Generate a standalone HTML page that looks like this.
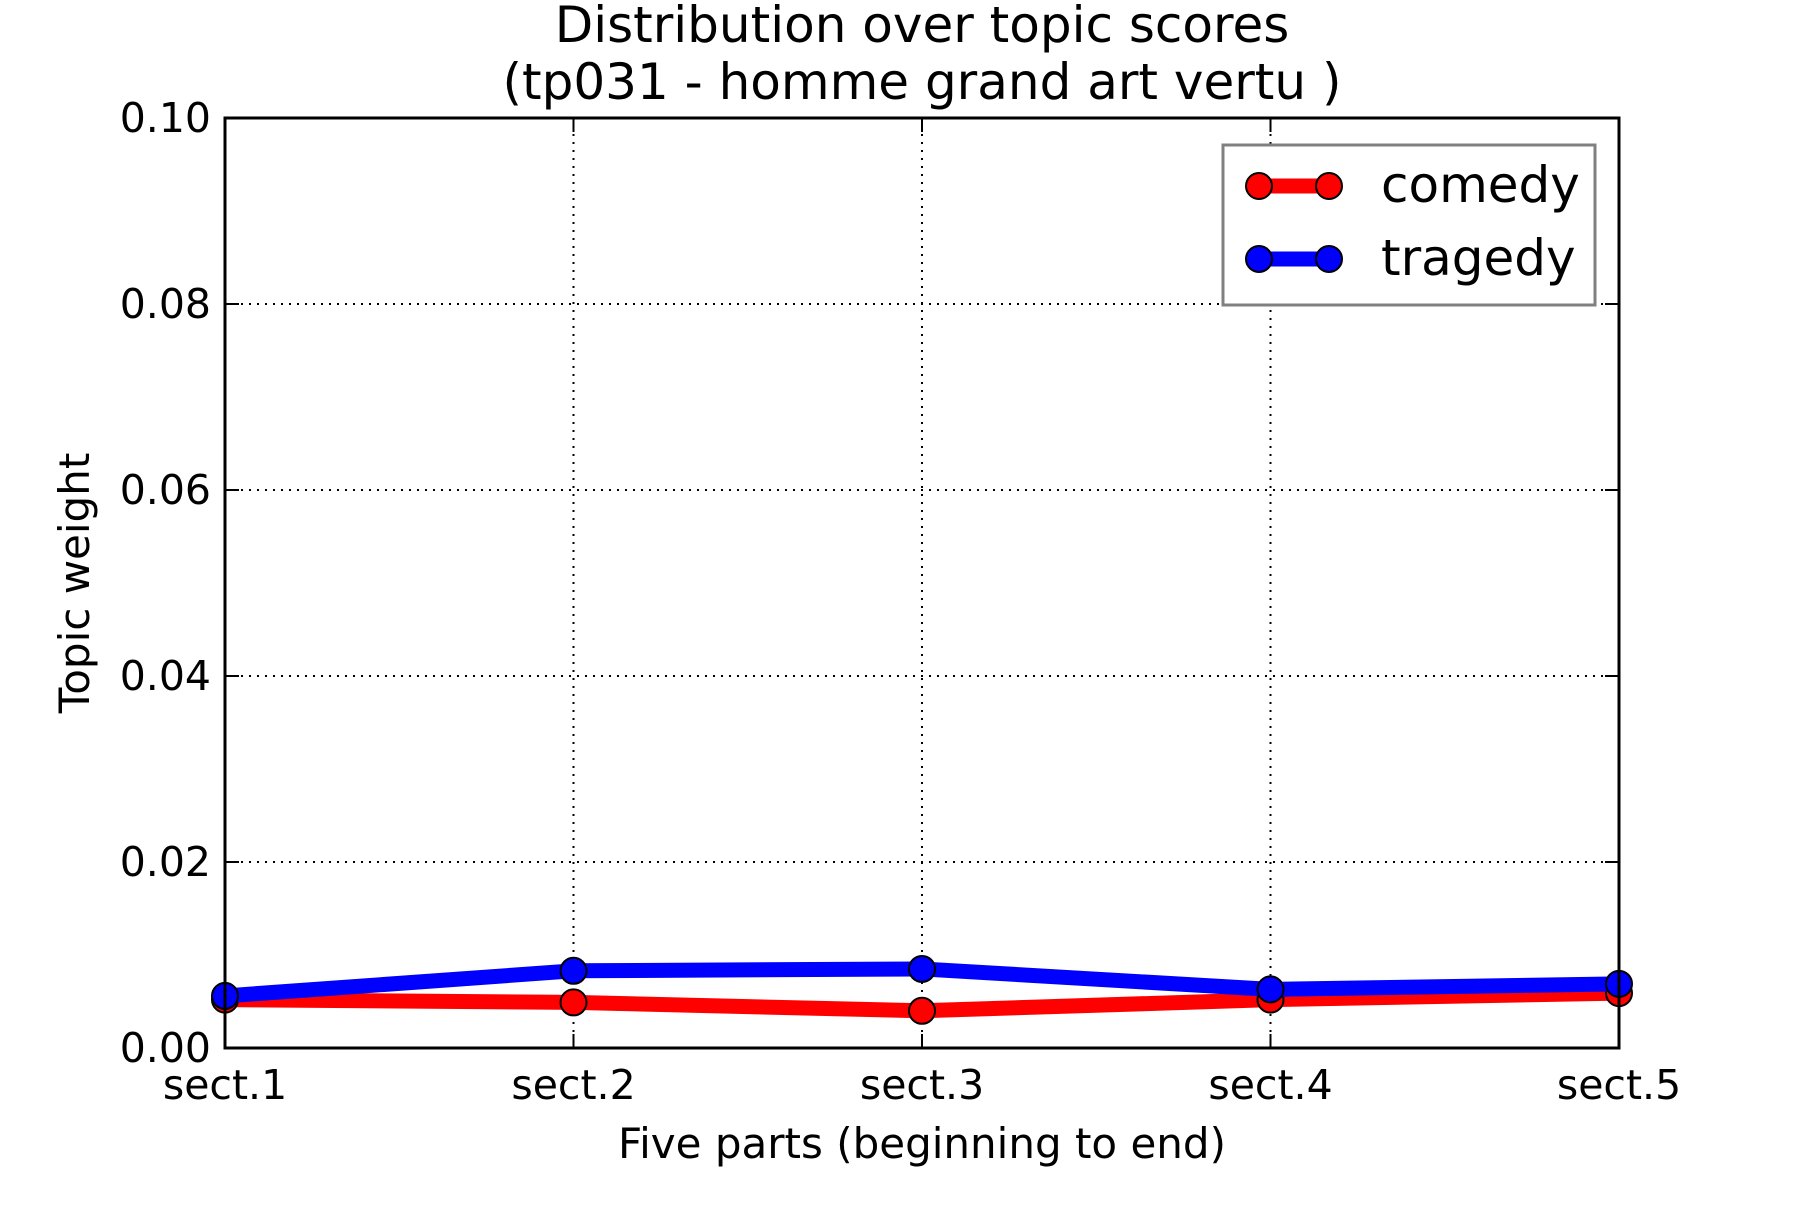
<!DOCTYPE html>
<html><head><meta charset="utf-8"><style>
html,body{margin:0;padding:0;background:#fff}
svg text{font-family:"DejaVu Sans","Liberation Sans",sans-serif;fill:#000}
</style></head><body>
<svg id="chart" width="1800" height="1200" viewBox="0 0 1800 1200" xmlns="http://www.w3.org/2000/svg">
<text x="922" y="42" font-size="50" text-anchor="middle">Distribution over topic scores</text>
<text x="922" y="99" font-size="50" text-anchor="middle">(tp031 - homme grand art vertu )</text>
<g id="grid"></g>
<g id="series"></g>
<rect x="225" y="118" width="1394" height="930" fill="none" stroke="#000" stroke-width="3"/>
<g id="ticks"></g>
<text x="922" y="1158" font-size="42" text-anchor="middle">Five parts (beginning to end)</text>
<text transform="translate(89,583) rotate(-90)" font-size="42" text-anchor="middle">Topic weight</text>
<g>
<rect x="1223" y="145" width="372" height="160" fill="#fff" stroke="#808080" stroke-width="3"/>
<g>
<line x1="1259" y1="186" x2="1329" y2="186" stroke="#f00" stroke-width="15"/>
<circle cx="1259" cy="186" r="13" fill="#f00" stroke="#000" stroke-width="2"/>
<circle cx="1329" cy="186" r="13" fill="#f00" stroke="#000" stroke-width="2"/>
<text x="1381" y="202" font-size="50">comedy</text></g>
<g>
<line x1="1259" y1="259" x2="1329" y2="259" stroke="#00f" stroke-width="15"/>
<circle cx="1259" cy="259" r="13" fill="#00f" stroke="#000" stroke-width="2"/>
<circle cx="1329" cy="259" r="13" fill="#00f" stroke="#000" stroke-width="2"/>
<text x="1381" y="275" font-size="50">tragedy</text></g>
</g>
</svg>
<script>
const categories = ["sect.1","sect.2","sect.3","sect.4","sect.5"];
const comedy = [0.0052,0.0049,0.0040,0.0052,0.0059];
const tragedy = [0.0056,0.0083,0.0085,0.0063,0.0069];
const yTicks = [0,0.02,0.04,0.06,0.08,0.10];
const yTickLabels = ["0.00","0.02","0.04","0.06","0.08","0.10"];

const L=225,R=1619,T=118,B=1048,NS="http://www.w3.org/2000/svg";
const xs=i=>L+(R-L)*i/(categories.length-1);
const ys=v=>B-(B-T)*v/0.1;
function mk(tag,attrs,parent){const e=document.createElementNS(NS,tag);for(const k in attrs)e.setAttribute(k,attrs[k]);parent.appendChild(e);return e;}
const grid=document.getElementById('grid'),ticks=document.getElementById('ticks'),ser=document.getElementById('series');
categories.forEach((c,i)=>{
  const x=xs(i);
  const g=mk('line',{x1:x,y1:T,x2:x,y2:B,stroke:'#000','stroke-width':2,'stroke-dasharray':'2,6'},grid);
  
  
  mk('line',{x1:x,y1:B,x2:x,y2:B-14,stroke:'#000','stroke-width':2},ticks);
  mk('line',{x1:x,y1:T,x2:x,y2:T+14,stroke:'#000','stroke-width':2},ticks);
  const t=mk('text',{x:x,y:1099,'font-size':41,'text-anchor':'middle'},ticks);
  t.textContent=c;
  
  
});
yTicks.forEach((v,i)=>{
  const y=ys(v);
  const g=mk('line',{x1:L,y1:y,x2:R,y2:y,stroke:'#000','stroke-width':2,'stroke-dasharray':'2,6'},grid);
  
  
  mk('line',{x1:L,y1:y,x2:L+14,y2:y,stroke:'#000','stroke-width':2},ticks);
  mk('line',{x1:R,y1:y,x2:R-14,y2:y,stroke:'#000','stroke-width':2},ticks);
  const t=mk('text',{x:211,y:y+14,'font-size':41,'text-anchor':'end'},ticks);
  t.textContent=yTickLabels[i];
  
  
});
function drawSeries(vals,color,name){
  const pts=vals.map((v,i)=>xs(i)+','+ys(v)).join(' ');
  const pl=mk('polyline',{points:pts,fill:'none',stroke:color,'stroke-width':15,'stroke-linejoin':'round'},ser);
  
  
  vals.forEach((v,i)=>{
    const c=mk('circle',{cx:xs(i),cy:ys(v),r:13,fill:color,stroke:'#000','stroke-width':2},ser);
    
    
  });
}
drawSeries(comedy,'#f00','comedy');
drawSeries(tragedy,'#00f','tragedy');
</script>
</body></html>
